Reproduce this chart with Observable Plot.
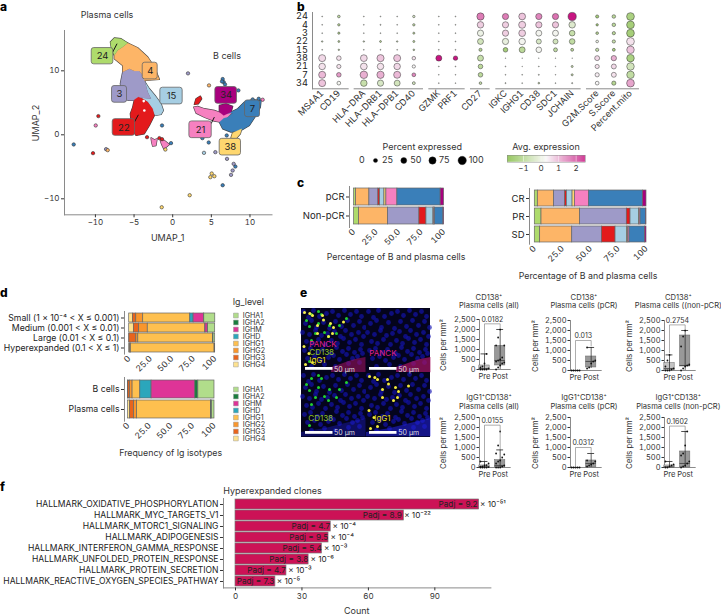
<!DOCTYPE html>
<html><head><meta charset="utf-8">
<script src="https://cdn.jsdelivr.net/npm/d3@7"></script>
<script src="https://cdn.jsdelivr.net/npm/@observablehq/plot@0.6"></script>
<style>
html,body{margin:0;padding:0;background:#fff}
#root{position:relative;width:721px;height:615px;overflow:hidden;font-family:Inter,sans-serif;color:#333}
#root svg{position:absolute;overflow:visible}
.lab{position:absolute;white-space:nowrap;line-height:1}
</style></head><body><div id="root"></div>
<script>
// ---------- panel a : UMAP ----------
const clusterColor={ "24":"#aedb6c","4":"#fdb567","3":"#9e9ac8","22":"#e31a1c","15":"#a6cee3","38":"#fed76f","21":"#f680c0","7":"#3a7fb9","34":"#a8007e" };
const poly24=[[-8.06,14.5],[-7.55,15.13],[-6.68,15.02],[-5.82,14.35],[-6.47,13.72],[-7.11,13.2],[-7.55,12.42],[-7.89,13.2]];
const poly4=[[-7.55,12.42],[-7.11,13.2],[-6.47,13.72],[-5.82,14.35],[-4.53,13.61],[-3.23,12.15],[-2.37,10.59],[-1.94,9.29],[-1.72,8.66],[-3.67,8.5],[-3.88,9.29],[-4.31,9.96],[-4.96,9.96],[-5.61,10.33],[-6.47,9.81],[-6.47,10.85],[-7.55,11.89]];
const poly3=[[-6.47,9.81],[-5.61,10.33],[-4.96,9.96],[-4.31,9.96],[-3.88,9.29],[-3.58,8.24],[-3.23,6.68],[-2.8,5.63],[-4.1,5.79],[-4.96,5.37],[-5.61,5.37],[-6.47,5.63],[-6.77,7.98]];
const poly15=[[-3.58,8.24],[-3.02,7.2],[-2.29,6.16],[-1.51,4.85],[-1.21,3.81],[-1.51,3.18],[-2.29,3.03],[-2.8,4.33],[-3.23,5.11],[-4.1,5.79],[-2.8,5.63],[-3.23,6.68]];
const poly22=[[-4.96,5.48],[-4.44,5.89],[-3.88,5.63],[-3.23,5.11],[-2.59,4.07],[-2.37,3.03],[-3.02,1.46],[-3.67,0.16],[-4.74,-0.1],[-5.3,0.94],[-5.48,3.29],[-5.17,4.33]];
const polyPinkA=[[-2.8,-0.47],[-2.37,-0.78],[-2.03,-0.63],[-2.16,-1.67],[-2.59,-1.77],[-2.72,-1.15]];
const polyPinkB=[[-1.6,-0.89],[-1.08,-0.89],[-0.43,-1.51],[-0.86,-1.93],[-1.16,-2.19],[-1.42,-1.51]];
const poly21=[[2.72,4.33],[3.23,4.43],[4.1,4.07],[5.39,3.81],[6.6,3.29],[7.76,3.55],[7.12,2.76],[6.25,1.98],[5.39,2.14],[4.1,2.76],[3.02,3.39]];
const poly7=[[6.6,3.29],[7.55,3.55],[8.41,4.07],[9.27,5.11],[10.35,5.48],[11.43,5.37],[11.34,4.33],[10.78,3.03],[9.92,1.46],[8.84,0.68],[7.55,0.42],[6.47,0.94],[6.04,1.98],[6.6,2.6],[7.12,2.76],[7.76,3.4]];
const poly34=[[6.04,4.59],[6.9,4.85],[7.76,4.43],[7.55,3.55],[6.6,3.03],[6.04,3.55]];
const poly38=[[7.76,0.31],[8.93,0.94],[8.75,0.16],[8.19,-0.63],[7.55,-0.47]];
const polyHook=[[2.8,4.75],[3.02,5.63],[3.58,6.05],[3.75,5.63],[3.32,4.85]];
const umapPolys=[[poly15,"15"],[poly3,"3"],[poly4,"4"],[poly24,"24"],[poly22,"22"],[polyPinkA,"21"],[polyPinkB,"21"],[poly21,"21"],[poly7,"7"],[poly34,"34"],[poly38,"38"],[polyHook,"22"]];
const looseX=[-12.81,4.66,6.47,8.5,10.35,11.13,3.84,6.99,-0.22,8.11,-1.38,6.47,6.6,6.77,6.38,-9.62,-10.31,-3.32,-1.72,-1.38,-9.96,11.64,1.98,5.52,7.03,7.55,7.76,7.89,-8.62,-8.41,4.7,4.05,5.05,4.87,5.39,2.2,-1.42,-0.95];
const looseY=[-1.51,-1.2,-7.88,6.94,5.53,5.63,-0.52,-0.1,-1.3,-4.96,1.46,8.71,8.24,7.88,8.34,2.92,-2.87,-0.37,-0.52,-0.68,1.46,5.48,9.6,-2.71,-3.76,-6.26,-5.58,-4.54,-2.24,-2.4,7.72,-2.82,-6.05,-6.62,-6.47,-9.44,-11.32,-2.3];
const looseC=["7","7","7","7","7","7","7","7","7","7","7","7","7","7","7","22","22","22","22","22","21","21","3","3","3","3","3","3","3","4","4","15","38","38","38","38","38","38"];
const labelNames=["24","4","3","15","22","34","7","21","38"];
const labelX1=[-10.48,-3.88,-7.85,-1.6,-7.76,5.52,9.36,2.16,6.08];
const labelX2=[-7.68,-1.94,-5.91,1.29,-4.87,8.32,11.3,5.05,8.84];
const labelY1=[11.01,8.66,5.01,4.75,-0.16,4.85,2.76,-0.52,-3.23];
const labelY2=[13.56,11.27,7.62,7.36,2.45,7.46,5.37,2.09,-0.63];
const leaderX1=[-7.76,-4.96,4.96], leaderY1=[12.94,1.98,1.72], leaderX2=[-7.2,-4.44,5.39], leaderY2=[14.24,3.13,2.76];
const holeX=[-3.67,-3.75], holeY=[3.81,5.27];

// ---------- panel b : dot plot ----------
const dotRows=["24","4","3","22","15","38","21","7","34"];
const genes=["MS4A1","CD19","HLA−DRA","HLA−DRB1","HLA−DPB1","CD40","GZMK","PRF1","CD27","IGKC","IGHG1","CD38","SDC1","JCHAIN","G2M.Score","S.Score","Percent.mito"];
const geneGroup=[0,0,1,1,1,1,2,2,3,4,4,4,4,4,5,5,5];
const groupStart=[-0.58,1.92,6.4,8.9,10.42,15.86], groupEnd=[1.62,6.08,8.58,10.08,15.54,19.04];
const pct=[
[1,10,1,1,1,8,1,1,75,55,65,55,55,95,14,18,85],
[1,8,1,1.5,1,8,1,1,60,55,70,55,55,60,8,18,85],
[1,7,1,1,1,6,1,1,55,55,65,50,50,45,10,15,85],
[3,5,3,5,3,6,1,1,50,55,60,35,35,45,10,15,85],
[1,3,1,1,1,4,1,1,14,30,50,45,22,12,15,12,80],
[70,30,65,72,70,18,50,28,50,0.5,0.5,0.5,0.5,0.5,35,40,80],
[60,25,65,60,60,15,1,1,30,1,0.5,1,0.5,6,25,35,80],
[70,30,80,75,70,20,0.8,0.8,30,1,1,1.5,0.7,6,25,35,80],
[70,20,60,55,50,12,1,0.8,10,1.5,1,4,1,2,20,25,85]];
const avg=[
[0,-0.7,0,0,0,-0.3,0,0,1.5,1.5,0.8,1.4,1.6,2.5,-1.2,-0.8,-1.1],
[0,-0.8,0,0,0,-0.7,0,0,0.7,0.7,0.7,0.8,0.8,-0.2,-1.2,-0.8,-1.2],
[0,-0.9,0,0,0,-0.8,0,0,0.1,0.7,0.7,0.2,0.2,-0.6,-0.8,-0.8,-1.2],
[-0.5,-0.9,-0.5,-0.9,-0.5,-0.8,0,0,-0.4,0,0.2,-0.3,-0.4,-0.7,0.1,-0.6,0.5],
[0,-0.8,0,0,0,-0.8,0,0,-0.9,-1.2,-0.8,0.2,-0.7,-0.8,-0.6,-1.1,0.8],
[0.6,0.5,0.6,0.8,0.8,0.5,2.5,2.5,-0.6,0,0,0,0,0,0.6,1,-1.1],
[0.5,0.5,0.5,0.5,0.6,0.3,0,0,-0.8,0,0,0,0,-0.6,0.5,0.6,-0.4],
[0.9,1.2,1,1,0.9,1.4,0,0,-0.8,0,0,0,0,-0.6,0.4,0.5,-0.7],
[0.8,0.2,-0.6,-0.3,-0.4,-0.4,0,0,-0.6,0,0,-0.5,0,0,0.3,-0.9,1.1]];
const pctLevels=[0,25,50,75,100];
const avgTicks=[-1,0,1,2];
const avgDomain=[-1.91,0.3,2.53];
const avgRange=["#7fbb3d","#f8f7f7","#c6127f"];

// ---------- panel c ----------
const clusterOrder=["24","4","3","22","15","38","21","7","34"];
const cLeftRows=["pCR","Non-pCR"];
const cPCR=[2.2,14.8,10,1.9,4.8,2.2,12.2,48.1,3.8];
const cNon=[5.6,32.2,34.8,7.8,7.8,0.7,1.1,9.3,0.7];
const cRightRows=["CR","PR","SD"];
const cCR=[2.7,14.6,9.9,1.5,5.1,2.1,12.5,48.4,3.2];
const cPR=[6,34.6,41.8,3.3,7.8,0.3,0.9,5,0.3];
const cSD=[4.8,28.7,26.6,12.2,10.4,0.9,1.2,14,1.2];
const pctTicks=[0,25,50,75,100];

// ---------- panel d ----------
const igLevels=["IGHA1","IGHA2","IGHM","IGHD","IGHG1","IGHG2","IGHG3","IGHG4"];
const igColors=["#b1dd8b","#1a7d3e","#de3497","#2ba6bb","#fec04f","#f9962c","#e8641c","#fee28f"];
const stackOrder=["IGHG4","IGHG3","IGHG2","IGHG1","IGHD","IGHM","IGHA2","IGHA1"];
const dTopRows=["Small (1 × 10⁻⁴ < X ≤ 0.001)","Medium (0.001 < X ≤ 0.01)","Large (0.01 < X ≤ 0.1)","Hyperexpanded (0.1 < X ≤ 1)"];
const dSmall=[4.3,3.9,8.1,54.7,3.9,12,0.4,12.8];
const dMedium=[5.4,6.2,10,67,0.1,2.7,0.4,8.2];
const dLarge=[0.2,8.1,2.3,86.8,0.2,0.1,0.3,2];
const dHyper=[1.2,0.3,0.5,97.3,0,0,0.7,0];
const dBotRows=["B cells","Plasma cells"];
const dBcells=[0.2,1.9,3.1,8.9,13.1,50.6,3.5,18.7];
const dPlasma=[2.3,4.6,3.5,85.7,0.1,0.1,0.8,2.9];

// ---------- panel e : image channels ----------
const nucleiX=[2,7,12,18,25,31,37,43,49,55,60,4,10,15,22,28,34,40,46,52,58,63,1,8,14,20,26,33,39,44,50,57,62,5,11,17,24,30,36,42,48,54,60,3,9,16,21,29,35,41,47,53,59,6,13,19,27,32,38,45,51,56,61,10,23,34,47,58];
const nucleiY=[3,9,2,8,5,3,7,2,6,3,8,15,12,19,14,20,13,18,12,17,13,19,24,26,22,27,25,23,28,22,26,24,28,33,35,31,36,32,35,30,34,31,36,42,40,44,41,45,39,43,40,44,41,50,48,52,49,47,51,46,50,48,45,58,56,58,55,54];
const igg1X=[3,8.3,22,29,16,31,16,27,42,2.5,7.5,11,4,32,21,11];
const igg1Y=[4,5,11.5,15,17,25,25,28,13.5,38,45,54,56,19,7,7];
const cd138X=[10,5,20,17,28,45,27,10,8,38,8,17,35,14,23];
const cd138Y=[6,12,6,15,17,10,28,32,18,17,53,3,25,25,24];
const panckX=[30,38,46,54,64.5], panckTop=[59,56.5,53.5,51,49];
const denseX=[0,12,24,36,48,64.5], denseTop=[60,58,56,53,50,46];

// ---------- panel e : cell counts ----------
const boxTitles=[["CD138⁺","Plasma cells (all)"],["CD138⁺","Plasma cells (pCR)"],["CD138⁺","Plasma cells ((non-pCR)"],["IgG1⁺CD138⁺","Plasma cells (all)"],["IgG1⁺CD138⁺","Plasma cells (pCR)"],["IgG1⁺CD138⁺","Plasma cells (non-pCR)"]];
const pValues=["0.0182","0.013","0.2754","0.0155","0.0312","0.1602"];
const bracketTop=[2283,1500,2280,2117,1000,2070];
const bracketLeft=[850,30,880,330,30,330];
const bracketRight=[2080,1230,2080,920,720,1860];
// pre: [whisker low, q1, median, q3, whisker high]
const preStats=[[0,0,50,200,780],[0,0,0,0,0],[0,0,100,370,780],[0,0,30,100,300],[0,0,0,0,0],[0,0,30,100,300]];
const postStats=[[0,200,450,1180,2000],[100,150,450,700,1150],[0,200,250,1750,2000],[0,0,100,370,880],[0,0,200,350,700],[0,0,200,800,1800]];
const prePts=[[0,0,0,0,50,100,150,300,780],[0,0,0,0,0],[0,0,0,50,100,200,500,780],[0,0,0,0,20,40,60,100,120,200,300],[0,0,0,0,0],[0,0,50,100,150,300]];
const postPts=[[0,100,200,300,350,400,450,500,600,1200,1200,1600,2000],[100,150,350,450,500,1150],[0,100,200,250,300,1200,1700,2000],[0,0,0,50,100,200,300,350,500,650,700,1100,1800],[50,100,150,200,300,350],[0,50,100,200,300,600,700,1100,1800]];
const cellTicks=[0,500,1000,1500,2000,2500];

// ---------- panel f ----------
const pathways=["HALLMARK_OXIDATIVE_PHOSPHORYLATION","HALLMARK_MYC_TARGETS_V1","HALLMARK_MTORC1_SIGNALING","HALLMARK_ADIPOGENESIS","HALLMARK_INTERFERON_GAMMA_RESPONSE","HALLMARK_UNFOLDED_PROTEIN_RESPONSE","HALLMARK_PROTEIN_SECRETION","HALLMARK_REACTIVE_OXYGEN_SPECIES_PATHWAY"];
const counts=[110,76,43,42,39,33,23,18];
const padj=["Padj = 9.2 × 10⁻⁵¹","Padj = 8.9 × 10⁻²²","Padj = 4.7 × 10⁻⁴","Padj = 9.5 × 10⁻⁴","Padj = 5.4 × 10⁻³","Padj = 3.8 × 10⁻⁶","Padj = 4.7 × 10⁻³","Padj = 7.3 × 10⁻⁵"];

// ---------- helpers ----------
const root=document.getElementById("root");
const FONT="Inter, sans-serif", INK="#333", AX="#8a8a8a";
function label(text,x,y,o={}){
  const d=document.createElement("div");d.className="lab";d.textContent=text;
  const a=o.anchor||"middle";
  const tx=a==="middle"?"-50%":a==="end"?"-100%":"0";
  d.style.cssText=`left:${x}px;top:${y}px;font-size:${o.size||9}px;color:${o.color||INK};font-weight:${o.weight||400};transform:translate(${tx},-50%) rotate(${o.rotate||0}deg);`;
  root.appendChild(d);
}
// box = frame rectangle in page pixels; pad = room outside it [top,right,bottom,left]
function place(box,pad,opts,css){
  const [x0,x1,y0,y1]=box,[t,r,b,l]=pad;
  const svg=Plot.plot({width:x1-x0+l+r,height:y1-y0+t+b,marginLeft:l,marginRight:r,marginTop:t,marginBottom:b,
    style:{background:"transparent",fontFamily:FONT,color:INK,overflow:"visible"},...opts});
  svg.style.left=(x0-l)+"px";svg.style.top=(y0-t)+"px";
  if(css) Object.assign(svg.style,css);
  root.appendChild(svg);return svg;
}
const frameL=()=>Plot.frame({anchor:"left",stroke:AX,strokeWidth:1});
const frameB=()=>Plot.frame({anchor:"bottom",stroke:AX,strokeWidth:1});
function bandOf(y0,y1,n,barH,step){const pi=1-barH/step;return {paddingInner:pi,paddingOuter:((y1-y0)/step-n+pi)/2,align:0.5};}
const pctFmt=d=>d===0||d===100?String(d):d.toFixed(1);

// ---------- draw a ----------
place([63.5,271,30,214.3],[2,4,26,30],{
  x:{domain:[-14,12.85],label:null},y:{domain:[-12.5,16.3],label:null},
  marks:[
    frameL(),frameB(),
    Plot.axisX({ticks:[-10,-5,0,5,10],tickSize:3,fontSize:8,tickPadding:2,tickFormat:d=>String(d).replace("-","−"),label:null}),
    Plot.axisY({ticks:[-10,0,10],tickSize:3,fontSize:8,tickPadding:2,tickFormat:d=>String(d).replace("-","−"),label:null}),
    ...umapPolys.map(([p])=>Plot.line(p,{x:"0",y:"1",curve:"linear-closed",stroke:"#3f3f3f",strokeWidth:1.3,fill:"#3f3f3f"})),
    ...umapPolys.map(([p,c])=>Plot.line(p,{x:"0",y:"1",curve:"linear-closed",fill:clusterColor[c],stroke:clusterColor[c],strokeWidth:0.2})),
    Plot.dot(looseX,{x:d=>d,y:(d,i)=>looseY[i],fill:(d,i)=>clusterColor[looseC[i]],stroke:"#333",strokeWidth:0.6,r:1.7}),
    Plot.dot(holeX,{x:d=>d,y:(d,i)=>holeY[i],fill:"#fff",r:1.3}),
    Plot.link(leaderX1,{x1:d=>d,y1:(d,i)=>leaderY1[i],x2:(d,i)=>leaderX2[i],y2:(d,i)=>leaderY2[i],stroke:"#111",strokeWidth:1}),
    Plot.rect(labelNames,{x1:(d,i)=>labelX1[i],x2:(d,i)=>labelX2[i],y1:(d,i)=>labelY1[i],y2:(d,i)=>labelY2[i],fill:d=>clusterColor[d],stroke:"#666",strokeWidth:0.8,rx:2.5}),
    Plot.text(labelNames,{x:(d,i)=>(labelX1[i]+labelX2[i])/2,y:(d,i)=>(labelY1[i]+labelY2[i])/2,text:d=>d,fontSize:9.5,fill:"#222"})
  ]});
label("Plasma cells",107,13.5,{size:9});
label("B cells",227,55,{size:9});
label("UMAP_2",35,123,{size:9,rotate:-90});
label("UMAP_1",167.7,236.7,{size:9});

// ---------- draw b ----------
const dotData=dotRows.flatMap((r,i)=>genes.map((g,j)=>({r:i,c:j+0.5*geneGroup[j],p:pct[i][j],a:avg[i][j]})));
const colorScale={type:"linear",domain:avgDomain,range:avgRange,interpolate:"rgb"};
place([312.3,639.3,12,88.3],[3,4,60,24],{
  x:{domain:[-0.58,19.04],label:null},y:{domain:[8.68,-0.48],label:null},
  color:colorScale,r:{domain:[0,100],range:[0,4.2],type:"sqrt"},
  marks:[
    frameL(),
    Plot.ruleY(groupStart,{x1:d=>d,x2:(d,i)=>groupEnd[i],y:()=>8.68,stroke:AX,strokeWidth:1}),
    Plot.axisY({ticks:d3.range(9),tickFormat:i=>dotRows[i],tickSize:0,tickPadding:4.5,fontSize:9.2,fill:"#222",label:null}),
    Plot.axisX({ticks:genes.map((g,j)=>j+0.5*geneGroup[j]),tickFormat:(d,i)=>genes[i],tickSize:0,tickPadding:3,tickRotate:-45,fontSize:9,label:null,textAnchor:"end"}),
    Plot.dot(dotData,{x:"c",y:"r",r:"p",fill:"a",stroke:"#333",strokeWidth:0.5})
  ]});
label("Percent expressed",422.3,145.7,{size:9});
label("Avg. expression",546,145.7,{size:9});
place([340,505,154,166],[0,0,0,0],{
  x:{type:"linear",domain:pctLevels,range:[12,35,63.3,92,121.7],axis:null,label:null},
  r:{domain:[0,100],range:[0,4.2],type:"sqrt"},
  marks:[
    Plot.dot(pctLevels,{x:d=>d,frameAnchor:"middle",r:d=>d,fill:"#000",stroke:"#333",strokeWidth:0.4}),
    Plot.text(pctLevels,{x:d=>d,frameAnchor:"middle",text:d=>String(d),dx:6.5,textAnchor:"start",fontSize:9})
  ]});
place([507.3,585.3,155.3,162],[0,0,10,0],{
  x:{domain:[avgDomain[0],avgDomain[2]],label:null},color:colorScale,
  marks:[
    Plot.rect(d3.range(avgDomain[0],avgDomain[2],0.03),{x1:d=>d,x2:d=>d+0.035,fill:d=>d}),
    Plot.ruleX(avgTicks,{stroke:"#fff",strokeWidth:0.6,strokeOpacity:0.8}),
    Plot.frame({stroke:"#888",strokeWidth:0.5}),
    Plot.axisX({ticks:avgTicks,tickSize:0,tickPadding:3,fontSize:8,tickFormat:d=>String(d).replace("-","−"),label:null})
  ]});

// ---------- stacked bars ----------
function stacked(box,pad,rows,series,keys,colors,barH,step,xdom,o={}){
  const data=rows.flatMap((r,i)=>keys.map((k,j)=>({r,k,v:series[i][j]})));
  return place(box,pad,{
    x:{domain:xdom,label:null},
    y:{domain:rows,label:null,...bandOf(box[2],box[3],rows.length,barH,step)},
    color:{type:"ordinal",domain:keys,range:colors},
    marks:[
      frameL(),
      Plot.axisY({tickSize:3,tickPadding:2,fontSize:o.fs||9.5,fill:"#222",label:null}),
      Plot.axisX({ticks:pctTicks,tickFormat:pctFmt,tickSize:0,tickPadding:3,tickRotate:-45,fontSize:8.5,label:null,textAnchor:"end"}),
      Plot.barX(data,{x:"v",y:"r",fill:"k",stroke:"#666",strokeWidth:0.7,order:null})
    ]});
}
const clusterColors=clusterOrder.map(c=>clusterColor[c]);
stacked([348.7,443.3,185.7,226.7],[2,6,26,60],cLeftRows,[cPCR,cNon],clusterOrder,clusterColors,17.2,19,[-5.1,100]);
stacked([528.7,645.7,188.3,244],[2,6,26,40],cRightRows,[cCR,cPR,cSD],clusterOrder,clusterColors,16,18,[-4.75,100]);
label("Percentage of B and plasma cells",396,257,{size:8.8});
label("Percentage of B and plasma cells",588,276,{size:8.8});

const igColorInStack=stackOrder.map(k=>igColors[igLevels.indexOf(k)]);
stacked([124,214.7,310.7,353.3],[2,6,26,122],dTopRows,[dSmall,dMedium,dLarge,dHyper],stackOrder,igColorInStack,9.2,10.4,[-5.47,100],{fs:8.7});
stacked([123.7,213.7,377.3,421],[2,6,26,122],dBotRows,[dBcells,dPlasma],stackOrder,igColorInStack,18.6,20.6,[-4.17,100],{fs:8.7});
label("Frequency of Ig isotypes",170.7,452.7,{size:8.8});
label("Ig_level",232.7,301.7,{size:8.8,anchor:"start"});
function igLegend(y0,y1){
  place([232.5,280,y0,y1],[0,0,0,0],{
    y:{type:"point",domain:igLevels,label:null,axis:null,padding:0},
    color:{type:"ordinal",domain:igLevels,range:igColors},
    marks:[
      Plot.dot(igLevels,{y:d=>d,frameAnchor:"left",dx:2.4,symbol:"square",r:2.7,fill:d=>d,stroke:"#999",strokeWidth:0.5}),
      Plot.text(igLevels,{y:d=>d,frameAnchor:"left",dx:9.2,text:d=>d,textAnchor:"start",fontSize:7.2,fill:INK})
    ]});
}
igLegend(314,365);igLegend(386.7,439);

// ---------- draw e image ----------
const nuclei=nucleiX.map((x,i)=>({x,y:nucleiY[i]}));
const igg1=igg1X.map((x,i)=>({x,y:igg1Y[i]}));
const cd138=cd138X.map((x,i)=>({x,y:cd138Y[i]}));
function quad(left,top,layers){
  place([left,left+64.5,top,top+64.3],[0,0,0,0],{
    x:{domain:[0,64.5],axis:null},y:{domain:[64.3,0],axis:null},
    marks:[Plot.dot(nuclei,{x:"x",y:"y",r:2.4,fill:"#1414b4",fillOpacity:0.65}),...layers]
  },{background:"#04041c",filter:"blur(0.7px)"});
}
const panckMark=(op)=>Plot.areaY(panckX,{x:d=>d,y1:(d,i)=>panckTop[i],y2:()=>64.3,fill:"#a81464",fillOpacity:op});
const denseMark=(op)=>Plot.areaY(denseX,{x:d=>d,y1:(d,i)=>denseTop[i],y2:()=>64.3,fill:"#2222e0",fillOpacity:op});
const spots=(arr,col,r=1.5)=>Plot.dot(arr,{x:"x",y:"y",r,fill:col});
quad(301.3,308,[panckMark(0.55),spots(cd138,"#22c830"),spots(igg1,"#f4f04a")]);
quad(365.8,308,[panckMark(0.7)]);
quad(301.3,372.3,[denseMark(0.35),spots(cd138,"#22d030")]);
quad(365.8,372.3,[denseMark(0.55),spots(igg1,"#f2ea3c")]);
function scale(x,y){
  place([x,x+27.5,y,y+2.8],[0,0,0,0],{x:{domain:[0,50],axis:null},y:{domain:[0,1],axis:null},
    marks:[Plot.rect([50],{x1:0,x2:d=>d,y1:0,y2:1,fill:"#fff"})]});
  label("50 µm",x+29,y+1.5,{size:7,color:"#ddd",anchor:"start"});
}
scale(305,367.3);scale(369.3,367.3);scale(305,430.7);scale(369.3,430.7);
label("PANCK",309.3,344.3,{size:8,color:"#e0208a",anchor:"start"});
label("CD138",309.3,352,{size:8,color:"#8fc21f",anchor:"start"});
label("IgG1",309.3,360,{size:8,color:"#e6dc1e",anchor:"start"});
label("PANCK",369.3,353.3,{size:8,color:"#e0208a",anchor:"start"});
label("CD138",308.3,417.7,{size:8,color:"#8fc21f",anchor:"start"});
label("IgG1",374.3,417.7,{size:8,color:"#e6dc1e",anchor:"start"});

// ---------- e box panels ----------
const boxAxisX=[479.3,570,664.3,479.3,570,664.3];
const boxTopY=[319,320,320,417.3,417.3,417.3];
const boxTitleX=[489,584,678.3,489,584,678.3];
const boxTitleY=[297.5,297.5,297.5,398.3,398.3,398.3];
const boxYTitleX=[444,536,630,444,536,630];
boxTitles.forEach((t,k)=>{
  const x0=boxAxisX[k],y0=boxTopY[k];
  const stats=[preStats[k],postStats[k]];
  const pts=[prePts[k],postPts[k]].flatMap((a,g)=>a.map((v,i)=>({g,v,i})));
  const offs=(d)=>d.g+((d.i%5)-2)*0.13;
  place([x0,x0+30.7,y0,y0+50],[2,4,14,28],{
    x:{domain:[-0.32,1.64],label:null},y:{domain:[0,2500],label:null},
    marks:[
      frameL(),frameB(),
      Plot.axisY({ticks:cellTicks,tickFormat:d3.format(","),tickSize:2.5,tickPadding:1.5,fontSize:7.5,label:null}),
      Plot.axisX({ticks:[0,1],tickFormat:d=>d===0?"Pre":"Post",tickSize:0,tickPadding:4,fontSize:7.6,label:null}),
      Plot.rect(stats,{x1:(d,i)=>i-0.33,x2:(d,i)=>i+0.33,y1:d=>d[1],y2:d=>d[3],fill:(d,i)=>i?"#999":"#c4c4c4",stroke:"#666",strokeWidth:0.5}),
      Plot.ruleX(stats,{x:(d,i)=>i,y1:d=>d[0],y2:d=>d[4],stroke:"#222",strokeWidth:0.7}),
      Plot.ruleY(stats,{x1:(d,i)=>i-0.22,x2:(d,i)=>i+0.22,y:d=>d[4],stroke:"#222",strokeWidth:0.8}),
      Plot.ruleY(stats,{x1:(d,i)=>i-0.33,x2:(d,i)=>i+0.33,y:d=>d[2],stroke:"#333",strokeWidth:0.7}),
      Plot.dot(pts,{x:offs,y:"v",r:0.9,fill:"#111"}),
      Plot.line([[0,bracketLeft[k]],[0,bracketTop[k]],[1,bracketTop[k]],[1,bracketRight[k]]],{x:"0",y:"1",stroke:"#777",strokeWidth:0.6}),
      Plot.text([pValues[k]],{x:()=>0.5,y:()=>bracketTop[k],dy:-4.5,text:d=>d,fontSize:7,fill:INK})
    ]});
  label(t[0],boxTitleX[k],boxTitleY[k],{size:7.6});
  label(t[1],boxTitleX[k],boxTitleY[k]+8.6,{size:7.6});
  label("Cells per mm²",boxYTitleX[k],y0+26,{size:7.8,rotate:-90});
});

// ---------- draw f ----------
place([223.3,490.7,498.3,587.7],[2,30,26,222],{
  x:{domain:[-5.42,115.3],label:null},
  y:{domain:pathways,label:null,...bandOf(498.3,587.7,8,9.9,11)},
  marks:[
    frameL(),frameB(),
    Plot.axisY({tickSize:3,tickPadding:2,fontSize:8.55,fill:"#222",label:null}),
    Plot.axisX({ticks:[0,30,60,90],tickSize:3,tickPadding:2,fontSize:8,label:null}),
    Plot.barX(pathways,{y:d=>d,x1:()=>0,x2:(d,i)=>counts[i],fill:"#cc1256",stroke:"#777",strokeWidth:0.7}),
    Plot.text(pathways,{y:d=>d,x:(d,i)=>counts[i],dx:-7,text:(d,i)=>padj[i],fontSize:8.2,fill:"#222"})
  ]});
label("Hyperexpanded clones",223.3,490,{size:9,anchor:"start"});
label("Count",356.7,609.5,{size:9});

// ---------- panel letters ----------
[["a",0,7],["b",297,6.5],["c",297,183],["d",0,293],["e",300,293],["f",0,487]].forEach(([t,x,y])=>label(t,x,y,{size:12,weight:800,color:"#000",anchor:"start"}));
</script></body></html>
